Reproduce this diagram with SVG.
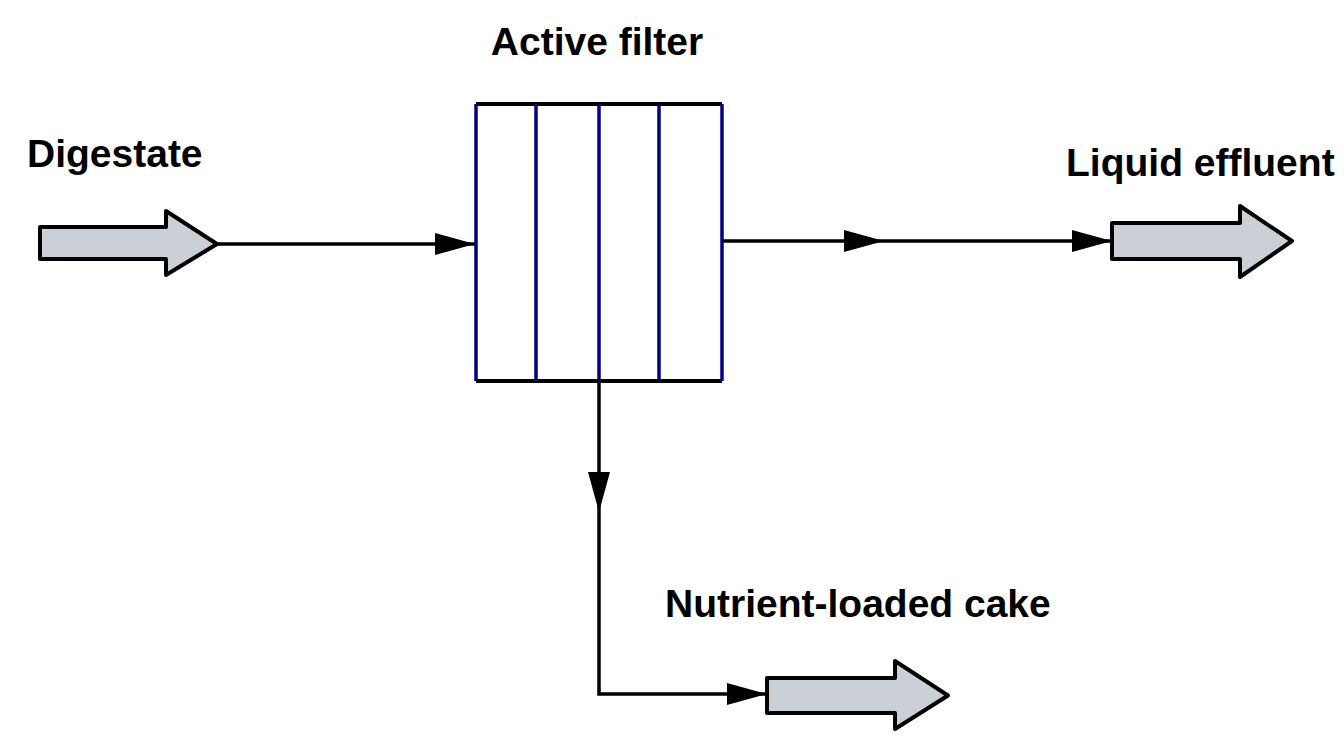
<svg xmlns="http://www.w3.org/2000/svg" width="1344" height="739" viewBox="0 0 1344 739">
<style>
.lbl{font-family:"Liberation Sans",Arial,sans-serif;font-weight:bold;font-size:39px;fill:#000}
.blk{fill:#cbcfd6;stroke:#000;stroke-width:4;stroke-linejoin:round}
.con{fill:none;stroke:#000;stroke-width:3.5}
.blue{stroke:#000080;stroke-width:3.5}
.blackb{stroke:#000;stroke-width:4}
</style>
<defs>
<marker id="ah" markerUnits="userSpaceOnUse" markerWidth="42" markerHeight="24" refX="40" refY="11" orient="auto" overflow="visible">
<path d="M0,0 L40,11 L0,22 Z" fill="#000"/>
</marker>
</defs>
<rect width="1344" height="739" fill="#fff"/>
<g id="connectors">
<path class="con" d="M217,244 H475" marker-end="url(#ah)"/>
<path class="con" d="M722,241 H884" marker-end="url(#ah)"/>
<path class="con" d="M884,241 H1112" marker-end="url(#ah)"/>
<path class="con" d="M599,381 V512" marker-end="url(#ah)"/>
<path class="con" d="M599,512 V694 H767" marker-end="url(#ah)"/>
</g>
<g id="filter">
<line class="blackb" x1="476" y1="104" x2="722" y2="104"/>
<line class="blackb" x1="476" y1="381" x2="722" y2="381"/>
<line class="blue" x1="476" y1="104" x2="476" y2="381"/>
<line class="blue" x1="536" y1="104" x2="536" y2="379"/>
<line class="blue" x1="599" y1="104" x2="599" y2="379"/>
<line class="blue" x1="659" y1="104" x2="659" y2="379"/>
<line class="blue" x1="722" y1="104" x2="722" y2="381"/>
<text class="lbl" x="597" y="55" text-anchor="middle">Active filter</text>
</g>
<g id="digestate">
<path class="blk" d="M40,227 H166 V211 L217,244 L166,275 V259 H40 Z"/>
<text class="lbl" x="27" y="167">Digestate</text>
</g>
<g id="liquid">
<path class="blk" d="M1112,223 H1240 V206 L1292,241 L1240,277 V259 H1112 Z"/>
<text class="lbl" x="1066" y="176">Liquid effluent</text>
</g>
<g id="cake">
<path class="blk" d="M767,678 H895 V661 L948,695.5 L895,729 V713 H767 Z"/>
<text class="lbl" x="665" y="617">Nutrient-loaded cake</text>
</g>
</svg>
